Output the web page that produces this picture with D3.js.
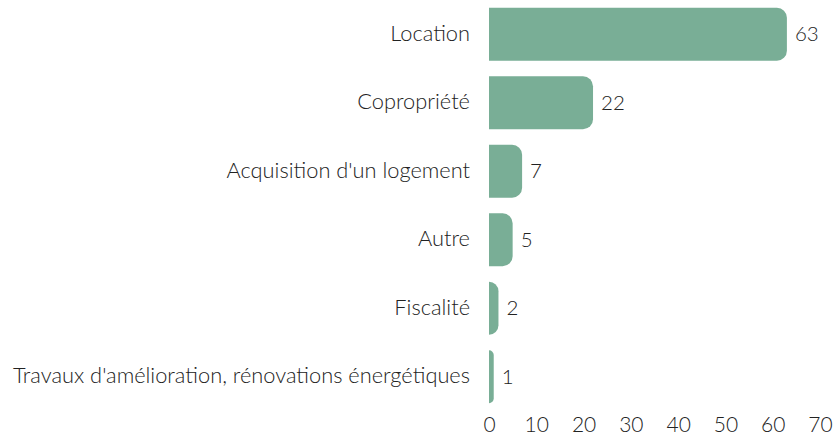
<!DOCTYPE html>
<html><head><meta charset="utf-8">
<script src="https://cdn.jsdelivr.net/npm/d3@7"></script>
<style>
body{margin:0;background:#fff;}
text{font-family:"Lato","Open Sans",sans-serif;font-weight:300;fill:#222;}
</style></head>
<body><svg id="c" width="833" height="436"></svg>
<script>
const categories = ["Location","Copropriété","Acquisition d'un logement","Autre","Fiscalité","Travaux d'amélioration, rénovations énergétiques"];
const values = [63,22,7,5,2,1];
const ticks = [0,10,20,30,40,50,60,70];

const svg = d3.select("#c");
const x = d3.scaleLinear().domain([0,70]).range([489,820]);
const y = d3.scaleBand().domain(categories).range([0,411]).paddingInner(0.226).paddingOuter(0.113);
const color = "#79ae96";
const r = 10;

function barPath(x0, x1, y0, h){
  const w = x1 - x0;
  const rr = Math.min(r, w, h/2);
  return `M${x0},${y0}H${x1-rr}A${rr},${rr} 0 0 1 ${x1},${y0+rr}V${y0+h-rr}A${rr},${rr} 0 0 1 ${x1-rr},${y0+h}H${x0}Z`;
}

const data = categories.map((c,i)=>({c, v: values[i]}));

svg.selectAll("path.bar").data(data).enter().append("path")
  .attr("class","bar")
  .attr("fill",color)
  .attr("d",d=>barPath(x(0), x(d.v), y(d.c), y.bandwidth()));

svg.selectAll("text.val").data(data).enter().append("text")
  .attr("class","val")
  .attr("x",d=>x(d.v)+8)
  .attr("y",d=>y(d.c)+y.bandwidth()/2)
  .attr("dy","0.35em")
  .attr("font-size",20.5)
  .text(d=>d.v);

svg.selectAll("text.cat").data(data).enter().append("text")
  .attr("class","cat")
  .attr("x",470)
  .attr("y",d=>y(d.c)+y.bandwidth()/2 - 1)
  .attr("dy","0.35em")
  .attr("text-anchor","end")
  .attr("font-size",21.8)
  .text(d=>d.c);

const axis = d3.axisBottom(x).tickValues(ticks).tickSize(0).tickPadding(0).tickFormat(d3.format("d"));
const g = svg.append("g").attr("transform","translate(0,417)").call(axis);
g.select(".domain").remove();
g.selectAll("text").attr("font-size",21).attr("fill","#222").attr("dy","0.71em")
  .style("font-family",'"Lato","Open Sans",sans-serif').style("font-weight",300);
</script>
</body></html>
